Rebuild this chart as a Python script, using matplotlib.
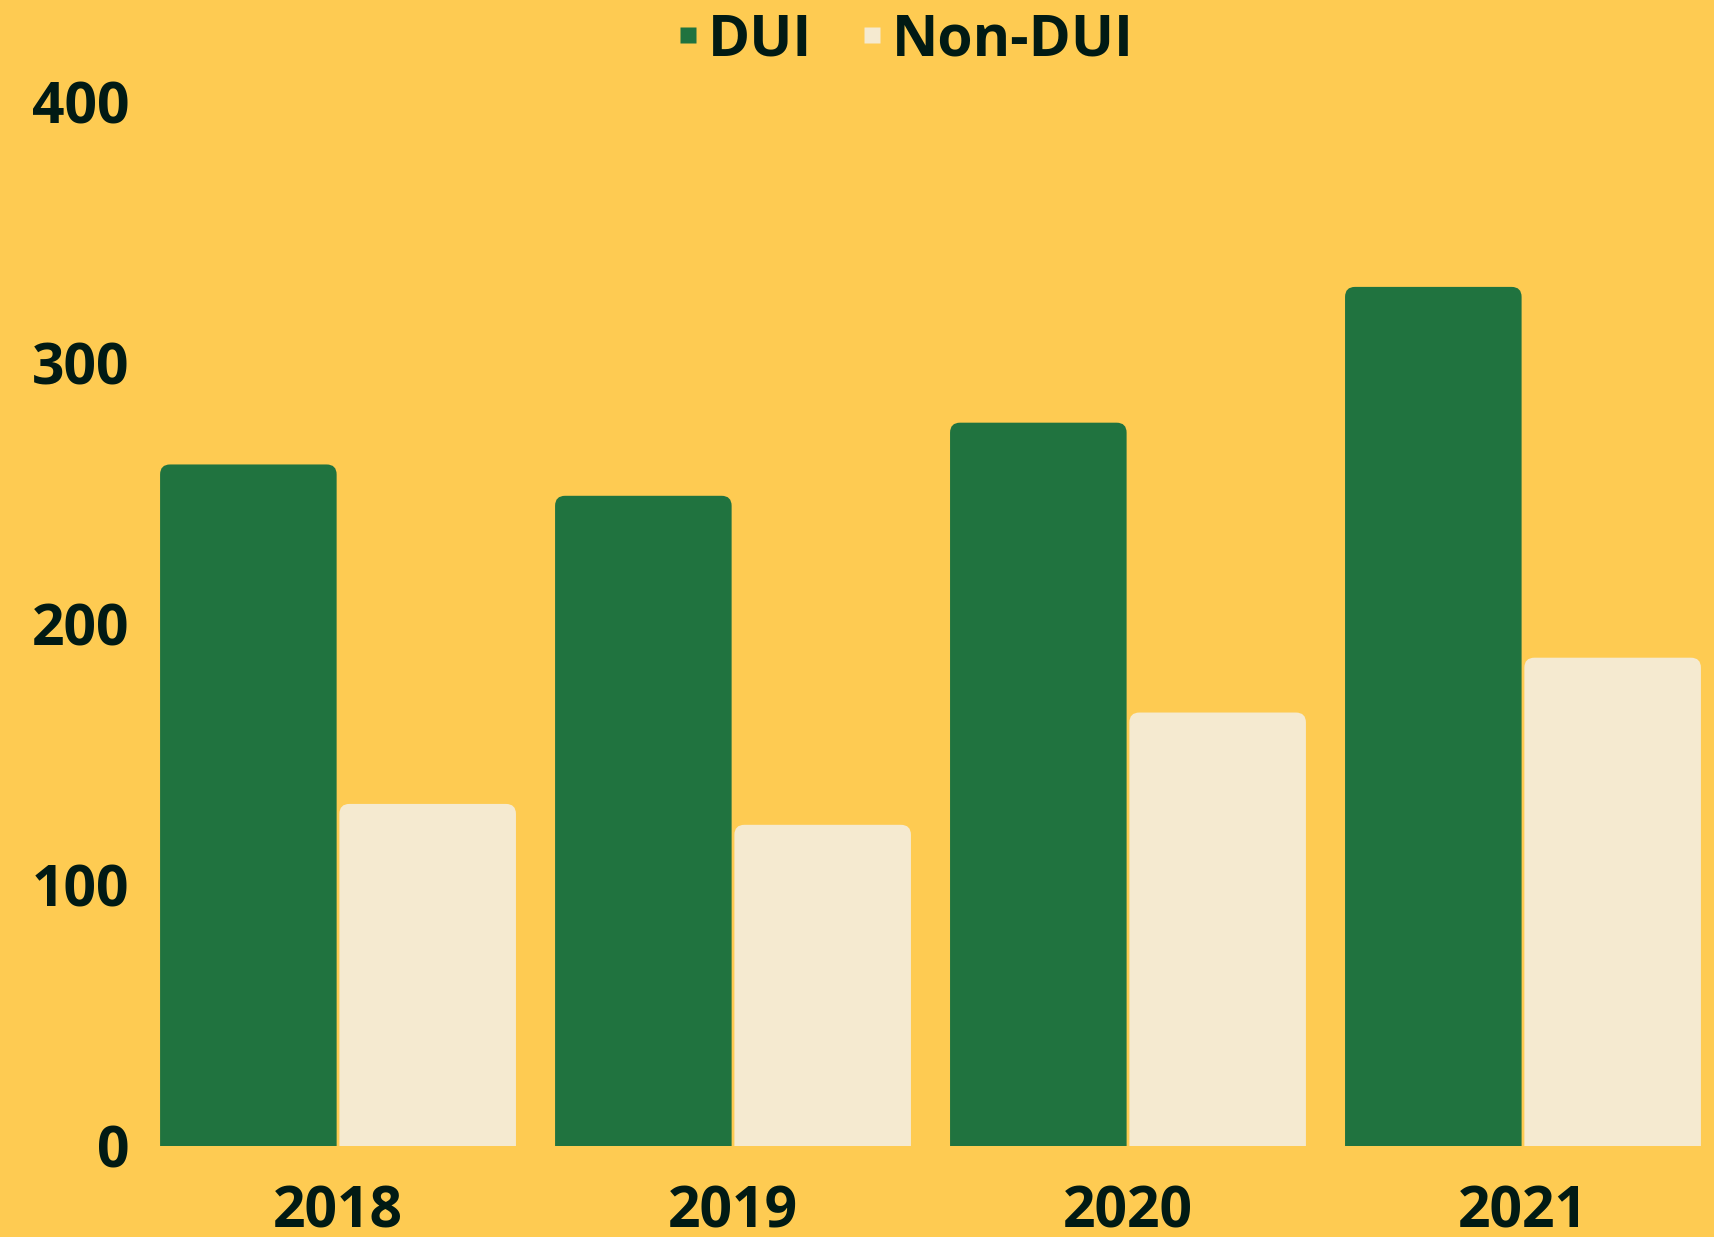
import matplotlib
matplotlib.use("Agg")
import matplotlib.pyplot as plt
from matplotlib.patches import FancyBboxPatch
from matplotlib.lines import Line2D

years = ["2018", "2019", "2020", "2021"]
dui = [261, 249, 277, 329]
non_dui = [131, 123, 166, 187]
yticks = [0, 100, 200, 300, 400]

BG = "#FECB52"
GREEN = "#20733F"
CREAM = "#F5EAD0"
TXT = "#011A14"
FONT = ["Open Sans", "DejaVu Sans"]

plt.rcParams["font.family"] = FONT
plt.rcParams["font.weight"] = "bold"

fig = plt.figure(figsize=(17.14, 12.37), dpi=100)
fig.patch.set_facecolor(BG)
ax = fig.add_axes([160 / 1714, 1 - 1146 / 1237, 1541 / 1714, (1146 - 101.5) / 1237])
ax.set_facecolor(BG)

x = list(range(len(years)))
w = 0.447
off = 0.227
b1 = ax.bar([i - off for i in x], dui, width=w, color=GREEN)
b2 = ax.bar([i + off for i in x], non_dui, width=w, color=CREAM)

ax.set_xlim(-0.4507, 3.4507)
ax.set_ylim(0, 400)

# replace bars with rounded-top versions (radius ~10 px)
fig.canvas.draw()
px_x = ax.transData.transform((1, 0))[0] - ax.transData.transform((0, 0))[0]
px_y = ax.transData.transform((0, 1))[1] - ax.transData.transform((0, 0))[1]
r_px = 10
rx = r_px / px_x
ry = r_px / px_y
for cont in (b1, b2):
    for rect in cont:
        xx, yy = rect.get_x(), rect.get_y()
        ww, hh = rect.get_width(), rect.get_height()
        fc = rect.get_facecolor()
        rect.set_visible(False)
        p = FancyBboxPatch((xx, yy - 2 * ry), ww, hh + 2 * ry,
                           boxstyle=f"round,pad=0,rounding_size={rx}",
                           mutation_aspect=ry / rx,
                           facecolor=fc, edgecolor="none", linewidth=0)
        ax.add_patch(p)

for s in ax.spines.values():
    s.set_visible(False)
ax.set_yticks(yticks)
ax.set_yticklabels([str(v) for v in yticks])
ax.set_xticks(x)
ax.set_xticklabels(years)
ax.tick_params(axis="both", length=0, labelsize=41, labelcolor=TXT)
ax.tick_params(axis="y", pad=22)
ax.tick_params(axis="x", pad=27)
for lab in ax.get_xticklabels() + ax.get_yticklabels():
    lab.set_fontweight("bold")

handles = [Line2D([], [], linestyle="none", marker="s", markersize=11,
                  markerfacecolor=GREEN, markeredgecolor="none"),
           Line2D([], [], linestyle="none", marker="s", markersize=11,
                  markerfacecolor=CREAM, markeredgecolor="none")]
leg = fig.legend(handles, ["DUI", "Non-DUI"], loc="upper center",
                 bbox_to_anchor=(905 / 1714, 0.9955), ncol=2, frameon=False,
                 prop={"family": FONT, "weight": "bold", "size": 41},
                 handlelength=0.4, handletextpad=0.15, columnspacing=0.85,
                 borderaxespad=0.0, borderpad=0.1)
for t in leg.get_texts():
    t.set_color(TXT)

fig.savefig("out.png", dpi=100, facecolor=BG)
